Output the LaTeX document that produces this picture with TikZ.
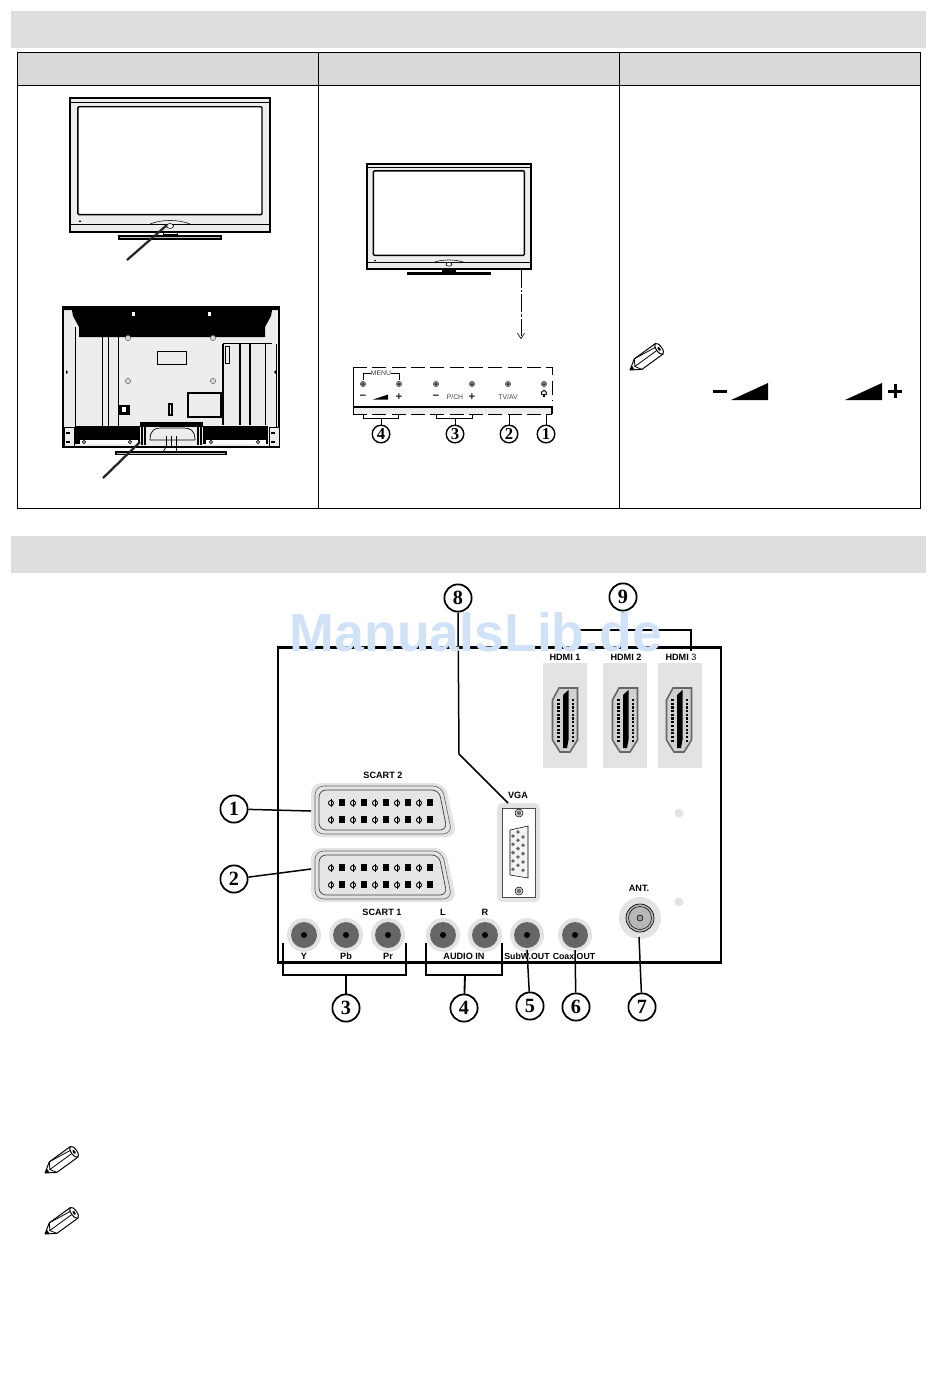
\documentclass[tikz,border=0pt]{standalone}
\usepackage{fontspec}
\setmainfont{Liberation Sans}
\newfontfamily\numfont{Liberation Serif}
\usetikzlibrary{arrows.meta}

\definecolor{bandgrey}{HTML}{DEDEDE}
\definecolor{headgrey}{HTML}{D9D9D9}
\definecolor{tvgrey}{HTML}{EDEDED}
\definecolor{halogrey}{HTML}{E3E3E3}
\definecolor{jackgrey}{HTML}{666666}
\definecolor{markblue}{HTML}{CFE2F8}

\tikzset{
  numcirc/.style={draw,circle,fill=white,line width=1pt,minimum size=15.5pt,inner sep=0pt,font=\numfont\bfseries\fontsize{11.5}{12}\selectfont},
  smallcirc/.style={draw,circle,fill=white,line width=.8pt,minimum size=10pt,inner sep=0pt,font=\numfont\bfseries\fontsize{9.5}{10}\selectfont},
  lbl/.style={inner sep=0pt,font=\bfseries\fontsize{5.2}{6}\selectfont},
  panellbl/.style={inner sep=0pt,text=black!75,font=\fontsize{3.9}{5}\selectfont},
  panelsign/.style={inner sep=0pt,text=black!85,font=\bfseries\fontsize{6.5}{7}\selectfont},
  wire/.style={line width=.85pt},
  bracket/.style={line width=1.05pt},
  pointer/.style={line width=1.3pt,black!85},
  panelbtn/.style={draw=black!70,fill=black!45,line width=.35pt},
  % front of the set, drawn in a 100 x 100 box
  pics/tvfront/.style={code={
    \draw[fill=tvgrey,line width=.8pt] (0,0) rectangle (100,100);
    \draw[line width=.45pt] (0,3) -- (100,3);
    \draw[fill=white,line width=.8pt,rounded corners=.6pt] (3.9,6.5) rectangle (96,87);
    \draw[line width=.5pt] (0,94) -- (100,94);
    \draw[line width=.3pt] (40,94) .. controls (46,90.5) and (54,90.5) .. (60,94);
    \draw[fill=white,line width=.35pt] (50,95.5) circle (1.8);
    \fill (5,92) circle (.7);
  }},
  pics/pencil/.style={code={
    \draw[fill=white,line width=.55pt,line join=round] (0,0) -- (10,-6.5) -- (36,-6.5) -- (36,6.5) -- (10,6.5) -- cycle;
    \draw[fill=white,line width=.55pt] (36,0) ellipse (2.8 and 6.5);
    \fill (36,0) ellipse (1.2 and 2.2);
    \draw[line width=.45pt] (10,-6.5) -- (6,0) -- (10,6.5) (6,0) -- (33,0) (10,-6.5) -- (33.5,-3.5);
    \fill (0,0) -- (4,-2.4) -- (4,2.4) -- cycle;
  }},
  pics/scart/.style={code={
    \draw[draw=none,fill=halogrey,rounded corners=6pt] (0,0) -- (134,0) -- (146,54) -- (0,54) -- cycle;
    \draw[black!60,line width=.35pt,rounded corners=5pt] (4,3) -- (131,3) -- (141,51) -- (4,51) -- cycle;
    \draw[black!75,line width=.4pt,fill=black!10,rounded corners=4pt] (8,7) -- (128,7) -- (136,47) -- (8,47) -- cycle;
    \foreach \row in {20,37}{
      \foreach \i in {0,...,9}{
        \pgfmathsetmacro{\px}{20+11*\i}
        \ifodd\i
          \fill (\px-2.6,\row-4) rectangle (\px+2.6,\row+3);
        \else
          \draw[fill=white,line width=.55pt] (\px,\row) circle (2.5);
          \draw[line width=.55pt] (\px,\row-4.2) -- (\px,\row+4.2);
        \fi
      }
    }
  }},
  pics/hdmi/.style={code={
    \draw[fill=black!18,draw=black!60,line width=.9pt] (-6,-32) -- (12.5,-32) -- (12.5,20) -- (5,32) -- (-5,32) -- (-12.5,20) -- (-12.5,-20) -- cycle;
    \fill (-2,-25) -- (3.5,-30) -- (3.5,20) -- (2,28) -- (-2,28) -- cycle;
    \draw[line width=1.5pt,dash pattern=on 1.2pt off .9pt] (-6.5,-21) -- (-6.5,22) (8,-21) -- (8,22);
  }},
  pics/rca/.style={code={
    \fill[halogrey] (0,0) circle (17);
    \fill[jackgrey] (0,0) circle (13);
    \fill (0,0) circle (3);
  }},
}

\begin{document}
\begin{tikzpicture}[x=.02cm,y=-.02cm]

\useasboundingbox (0,0) rectangle (950,1374);

% grey bands
\fill[bandgrey] (11,11) rectangle (926,48);
\fill[bandgrey] (11,536) rectangle (926,573);

% table
\draw[fill=headgrey,line width=.45pt] (17,52) rectangle (920,85);
\draw[line width=.45pt] (17,85) rectangle (920,508);
\draw[line width=.45pt] (318,52) -- (318,508) (619,52) -- (619,508);

% upper set, front
\pic[xscale=2,yscale=1.34] at (70,98) {tvfront};
\draw[fill=black!25,line width=.6pt] (119,236) rectangle (221,239);
\draw[line width=.5pt] (163,232) -- (163,234) -- (177,234) -- (177,232);
\coordinate (frontTip) at (167,225);
\coordinate (frontEnd) at (127,260);
\draw[pointer] (frontEnd) -- (frontTip);

% upper set, rear
\draw[fill=tvgrey,line width=1pt] (63,307) rectangle (279,447);
\fill (63,307) -- (279,307) -- (279,310) -- (272,310) -- (271,316) -- (265,327) -- (265,337) -- (79,337) -- (79,327) -- (73,316) -- (72,310) -- (63,310) -- cycle;
\foreach \x in {133,209}
  \fill[white] (\x-1.5,312) rectangle (\x+1.5,316);
\foreach \x in {128,213}{
  \draw[black!60,line width=.3pt,fill=black!15] (\x,338) circle (2.6);
  \draw[black!60,line width=.3pt,fill=black!15] (\x,381) circle (2.6);
}
\draw[line width=.5pt] (75,327) -- (75,427);
\foreach \x in {102,108,118}
  \draw[line width=.45pt] (\x,337) -- (\x,427);
\draw[line width=1pt] (223,344) -- (223,425);
\draw[line width=.5pt] (223,343) -- (272,343);
\foreach \x in {240,250}
  \draw[line width=1pt] (\x,344) -- (\x,425);
\draw[line width=.5pt] (265,344) -- (265,425) (276,344) -- (276,427);
\draw[line width=.4pt] (225,346) rectangle (229,363);
\draw[line width=.4pt,fill=tvgrey] (157,351) rectangle (186,364);
\draw[line width=1.1pt,fill=tvgrey] (188,393) rectangle (221,417);
\fill (119,405) rectangle (130,415);
\fill[white] (122,407) rectangle (126,412);
\draw[line width=.6pt] (169,404) rectangle (172,415);
\fill (66,370) -- (68,372) -- (66,374) -- cycle;
\fill (276,370) -- (274,372) -- (276,374) -- cycle;
% bottom strip of the rear
\fill (75,426) rectangle (140,444);
\fill (203,426) rectangle (268,444);
\fill[white] (80,440) rectangle (138,444);
\fill[white] (206,440) rectangle (266,444);
\foreach \x in {84,130,211,258}
  \draw[fill=white,line width=.4pt] (\x,442) circle (1.6);
\foreach \x in {63,268}{
  \draw[fill=tvgrey,line width=.5pt] (\x+1,427) rectangle (\x+11,446);
  \fill (\x+3,432) rectangle (\x+7,434);
  \fill (\x+3,441) rectangle (\x+7,443);
}
% stand seen from behind
\fill (140,422) rectangle (203,427);
\draw[line width=.7pt] (142,427) -- (142,445) (145,427) -- (145,445) (198,427) -- (198,445) (201,427) -- (201,445);
\draw[line width=.4pt] (150,440) .. controls (150,430) and (155,428) .. (160,428) -- (184,428) .. controls (190,428) and (195,430) .. (195,440);
\draw[line width=.5pt] (166,447) -- (166,436) (171,447) -- (171,436) (176,447) -- (176,436);
\draw[line width=.4pt] (150,440) -- (195,440) (163,452) -- (166,447) -- (176,447) -- (177,452);
\draw[fill=black!25,line width=.6pt] (116,452) rectangle (226,454.5);
\coordinate (rearTip) at (140,442);
\coordinate (rearEnd) at (103,478);
\draw[pointer] (rearEnd) -- (rearTip);

% lower set, front
\pic[xscale=1.64,yscale=1.05] at (367,164) {tvfront};
\fill (407,272) rectangle (491,275);
\fill (442,269) rectangle (456,272);
\coordinate (dashTop) at (521,270);
\coordinate (dashEnd) at (521,339);
\draw[line width=.35pt,dash pattern=on 10pt off 1.2pt on 1.5pt off 1.2pt,-{Straight Barb[length=3pt,width=4pt]}] (dashTop) -- (dashEnd);

% detail of the control panel
\fill[tvgrey] (353,407) rectangle (552,414);
\draw[line width=.45pt,dash pattern=on 8pt off 3pt] (353,367) -- (552,367) -- (552,400);
\draw[line width=.45pt] (353,367) -- (353,414);
\draw[line width=1pt] (353,407) -- (552,407) -- (552,414);
\draw[line width=.45pt,dash pattern=on 8pt off 3pt] (353,414.5) -- (552,414.5);
\foreach \x in {363,399,436,472,508,544}{
  \draw[panelbtn] (\x,384) circle (2.6);
  \fill (\x,384) circle (1);
}
\node[panellbl] (lblMenu) at (381,373) {MENU};
\draw[line width=.4pt] (lblMenu.west) -- (363,373) -- (363,380);
\draw[line width=.4pt] (lblMenu.east) -- (399,373) -- (399,380);
\node[panelsign] (lblMinusA) at (363,397) {−};
\node[panelsign] (lblPlusA) at (399,397) {+};
\fill (373,399.5) -- (388,394.5) -- (388,399.5) -- cycle;
\node[panelsign] (lblMinusB) at (436,397) {−};
\node[panellbl] (lblPch) at (455,397) {P/CH};
\node[panelsign] (lblPlusB) at (472,397) {+};
\node[panellbl] (lblTvav) at (508,397) {TV/AV};
\draw[line width=.6pt] (544,393.5) -- (544,397);
\draw[line width=.6pt] (542.3,395.2) arc (130:410:2.6);

\node[smallcirc] (panelFour) at (381,434) {4};
\node[smallcirc] (panelThree) at (455,434) {3};
\node[smallcirc] (panelTwo) at (509,434) {2};
\node[smallcirc] (panelOne) at (546,434) {1};
\coordinate (panelTopTwo) at (509,415);
\coordinate (panelTopOne) at (546,415);
\draw[line width=.45pt] (363,415) -- (363,418) -- (398,418) -- (398,415);
\draw[line width=.45pt] (436,415) -- (436,418) -- (472,418) -- (472,415);
\draw[line width=.45pt] (381,418) -- (panelFour);
\draw[line width=.45pt] (455,418) -- (panelThree);
\draw[line width=.45pt] (panelTopTwo) -- (panelTwo);
\draw[line width=.45pt] (panelTopOne) -- (panelOne);

% third column
\pic[rotate=36] at (630,370) {pencil};
\fill (713,389.5) rectangle (727,392.5);
\fill (731,400) -- (768,383) -- (768,400) -- cycle;
\fill (845,400) -- (882,383) -- (882,400) -- cycle;
\fill (888,389.5) rectangle (902,392.5);
\fill (893.5,384) rectangle (896.5,398);

% pencils of the notes
\pic[rotate=36] at (45,1173) {pencil};
\pic[rotate=36] at (45,1234) {pencil};

% back panel frame
\draw[line width=1.7pt] (278,647) rectangle (721,962);

% hdmi sockets
\foreach \x/\cx/\y in {543/565/1,603/625/2,658/679/3}{
  \fill[halogrey] (\x,663) rectangle (\x+44,768);
  \pic at (\cx,720) {hdmi};
}
\node[lbl] (lblHdmiA) at (565,657) {HDMI 1};
\node[lbl] (lblHdmiB) at (626,657) {HDMI 2};
\node[lbl] (lblHdmiC) at (681,657) {HDMI {\mdseries 3}};

% scart sockets
\pic at (311,783) {scart};
\pic at (311,848) {scart};
\node[lbl] (lblScartB) at (383,775) {SCART 2};
\node[lbl] (lblScartA) at (382,912) {SCART 1};

% vga socket
\fill[halogrey,rounded corners=3pt] (497,803) rectangle (540,902);
\draw[fill=white,line width=.4pt,draw=black!70] (502,808) rectangle (535,897);
\foreach \y in {813,891}{
  \draw[fill=black!15,line width=.3pt] (519,\y) circle (4);
  \fill[black!55] (519,\y) circle (2.3);
}
\draw[fill=black!5,line width=.3pt] (510,830) -- (528,826) -- (528,878) -- (510,875) -- cycle;
\foreach \x/\ystart in {513/836,518/832,523/837}
  \foreach \i in {0,...,4}
    \fill[black!60] (\x,\ystart+8.3*\i) circle (1.9);
\node[lbl] (lblVga) at (518,795) {VGA};

% rca jacks
\foreach \x in {304,346,388,443,485,527,575}
  \pic at (\x,935) {rca};
\node[lbl] (lblY) at (304,956) {Y};
\node[lbl] (lblPb) at (346,956) {Pb};
\node[lbl] (lblPr) at (388,956) {Pr};
\node[lbl] (lblL) at (443,912) {L};
\node[lbl] (lblR) at (485,912) {R};
\node[lbl] (lblAudio) at (464,956) {AUDIO IN};
\node[lbl,font=\bfseries\fontsize{5}{6}\selectfont] (lblSub) at (527,956) {SubW.OUT};
\node[lbl,font=\bfseries\fontsize{5}{6}\selectfont] (lblCoax) at (574,956) {Coax.OUT};

% antenna
\fill[halogrey] (640,918) circle (21);
\draw[fill=black!28,line width=.4pt] (640,918) circle (14);
\draw[line width=.3pt] (640,918) circle (11.5);
\draw[fill=black!40,line width=.3pt] (640,918) circle (3);
\node[lbl] (lblAnt) at (639,888) {ANT.};
\fill[halogrey] (679,813) circle (4.5);
\fill[halogrey] (679,902) circle (4.5);

% numbers and their connectors
\node[numcirc] (numOne) at (234,809) {1};
\node[numcirc] (numTwo) at (234,879) {2};
\node[numcirc] (numThree) at (346,1008) {3};
\node[numcirc] (numFour) at (464,1008) {4};
\node[numcirc] (numFive) at (530,1006) {5};
\node[numcirc] (numSix) at (576,1007) {6};
\node[numcirc] (numSeven) at (642,1007) {7};
\node[numcirc] (numEight) at (458,598) {8};
\node[numcirc] (numNine) at (623,597) {9};

\coordinate (scartB) at (311,811);
\coordinate (scartA) at (311,869);
\coordinate (subOut) at (527,950);
\coordinate (coaxOut) at (575,950);
\coordinate (antOut) at (639,937);
\coordinate (vgaCorner) at (508,803);
\coordinate (vgaBend) at (459,754);

\draw[wire] (numOne) -- (scartB);
\draw[wire] (numTwo) -- (scartA);
\draw[wire] (numFive) -- (subOut);
\draw[wire] (numSix) -- (coaxOut);
\draw[wire] (numSeven) -- (antOut);
\draw[wire] (numEight.south) -- (vgaBend) -- (vgaCorner);

% brackets
\draw[bracket] (283,943) -- (283,975) -- (406,975) -- (406,943);
\draw[bracket] (346,975) -- (numThree);
\draw[bracket] (426,943) -- (426,975) -- (502,975) -- (502,943);
\draw[bracket] (465,975) -- (numFour);
\draw[bracket] (579,647) -- (579,630) -- (691,630) -- (691,651);
\draw[bracket] (623,630) -- (numNine);

% watermark
\node[inner sep=0pt,anchor=base,text=markblue,font=\bfseries\fontsize{30.5}{31}\selectfont] (lblMark) at (476,651) {ManualsLib.de};

\end{tikzpicture}
\end{document}
